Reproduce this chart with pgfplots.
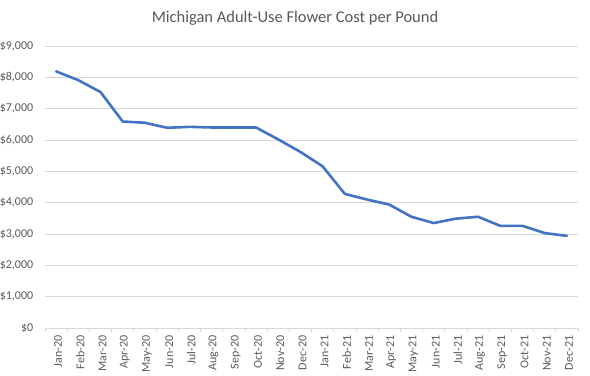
\documentclass[border=0pt]{standalone}
\usepackage{pgfplots}
\pgfplotsset{compat=1.18}
\usepackage{fontspec}
\setmainfont{Carlito}
\definecolor{txtgray}{HTML}{595959}
\definecolor{gridgray}{HTML}{D9D9D9}
\definecolor{xlblue}{HTML}{4472C4}
\begin{document}
\begin{tikzpicture}[x=1bp,y=1bp]
\useasboundingbox (0,0) rectangle (590,375);
\begin{axis}[
  at={(45bp,47bp)}, anchor=south west,
  scale only axis, width=533bp, height=282bp,
  xmin=-0.5, xmax=23.5, ymin=0, ymax=9000,
  ytick={0,1000,...,9000},
  ymajorgrids, grid style={gridgray, line width=0.75bp},
  axis y line*=left, y axis line style={draw=none},
  major y tick style={draw=none},
  axis x line*=bottom,
  x axis line style={gridgray, line width=0.75bp},
  xtick={0,...,23}, major x tick style={draw=none},
  minor xtick={-0.5,0.5,...,23.5},
  minor x tick style={gridgray, line width=0.75bp},
  minor tick length=4bp, tick align=outside,
  xticklabels={Jan-20,Feb-20,Mar-20,Apr-20,May-20,Jun-20,Jul-20,Aug-20,Sep-20,Oct-20,Nov-20,Dec-20,Jan-21,Feb-21,Mar-21,Apr-21,May-21,Jun-21,Jul-21,Aug-21,Sep-21,Oct-21,Nov-21,Dec-21},
  xticklabel style={rotate=90, anchor=east, font=\fontsize{12bp}{14bp}\selectfont, text=txtgray, yshift=-2bp},
  yticklabel={\$\pgfmathprintnumber[assume math mode=true,1000 sep={,}]{\tick}},
  yticklabel style={font=\fontsize{12bp}{14bp}\selectfont, text=txtgray, anchor=east, xshift=-4bp},
  clip=false,
]
\addplot[xlblue, line width=2.6bp, line join=round, line cap=round] coordinates {
(0,8190) (1,7910) (2,7530) (3,6590) (4,6550) (5,6390) (6,6420) (7,6400) (8,6400) (9,6400)
(10,6020) (11,5620) (12,5160) (13,4280) (14,4100) (15,3940) (16,3550) (17,3350) (18,3490) (19,3550)
(20,3260) (21,3260) (22,3030) (23,2940)
};
\end{axis}
\node[text=txtgray, font=\fontsize{16.5bp}{19bp}\selectfont] at (295,357) {Michigan Adult-Use Flower Cost per Pound};
\end{tikzpicture}
\end{document}
